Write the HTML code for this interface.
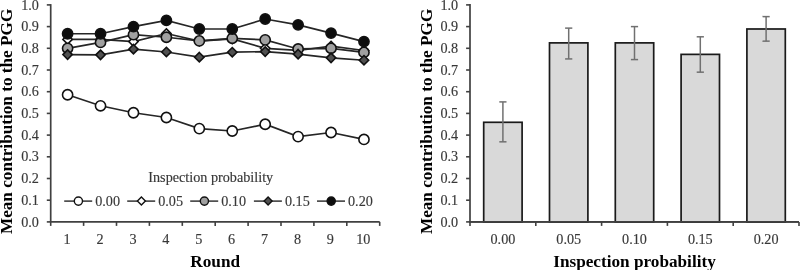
<!DOCTYPE html><html><head><meta charset="utf-8"><style>html,body{margin:0;padding:0;background:#fff;width:800px;height:270px;overflow:hidden}svg{display:block}</style></head><body><svg width="800" height="270" viewBox="0 0 800 270">
<rect width="800" height="270" fill="#fff"/>
<style>.t{font-family:"Liberation Serif",serif;font-size:14.2px;fill:#383838;stroke:#383838;stroke-width:0.15px}.b{font-family:"Liberation Serif",serif;font-size:17.2px;font-weight:bold;fill:#000}</style>
<line x1="46.80" y1="221.90" x2="50.70" y2="221.90" stroke="#404040" stroke-width="1.6"/>
<text x="38.90" y="226.50" text-anchor="end" class="t">0.0</text>
<line x1="46.80" y1="200.20" x2="50.70" y2="200.20" stroke="#404040" stroke-width="1.6"/>
<text x="38.90" y="204.80" text-anchor="end" class="t">0.1</text>
<line x1="46.80" y1="178.50" x2="50.70" y2="178.50" stroke="#404040" stroke-width="1.6"/>
<text x="38.90" y="183.10" text-anchor="end" class="t">0.2</text>
<line x1="46.80" y1="156.80" x2="50.70" y2="156.80" stroke="#404040" stroke-width="1.6"/>
<text x="38.90" y="161.40" text-anchor="end" class="t">0.3</text>
<line x1="46.80" y1="135.10" x2="50.70" y2="135.10" stroke="#404040" stroke-width="1.6"/>
<text x="38.90" y="139.70" text-anchor="end" class="t">0.4</text>
<line x1="46.80" y1="113.40" x2="50.70" y2="113.40" stroke="#404040" stroke-width="1.6"/>
<text x="38.90" y="118.00" text-anchor="end" class="t">0.5</text>
<line x1="46.80" y1="91.70" x2="50.70" y2="91.70" stroke="#404040" stroke-width="1.6"/>
<text x="38.90" y="96.30" text-anchor="end" class="t">0.6</text>
<line x1="46.80" y1="70.00" x2="50.70" y2="70.00" stroke="#404040" stroke-width="1.6"/>
<text x="38.90" y="74.60" text-anchor="end" class="t">0.7</text>
<line x1="46.80" y1="48.30" x2="50.70" y2="48.30" stroke="#404040" stroke-width="1.6"/>
<text x="38.90" y="52.90" text-anchor="end" class="t">0.8</text>
<line x1="46.80" y1="26.60" x2="50.70" y2="26.60" stroke="#404040" stroke-width="1.6"/>
<text x="38.90" y="31.20" text-anchor="end" class="t">0.9</text>
<line x1="46.80" y1="4.90" x2="50.70" y2="4.90" stroke="#404040" stroke-width="1.6"/>
<text x="38.90" y="9.50" text-anchor="end" class="t">1.0</text>
<line x1="50.70" y1="221.90" x2="50.70" y2="225.90" stroke="#404040" stroke-width="1.6"/>
<line x1="83.60" y1="221.90" x2="83.60" y2="225.90" stroke="#404040" stroke-width="1.6"/>
<line x1="116.50" y1="221.90" x2="116.50" y2="225.90" stroke="#404040" stroke-width="1.6"/>
<line x1="149.40" y1="221.90" x2="149.40" y2="225.90" stroke="#404040" stroke-width="1.6"/>
<line x1="182.30" y1="221.90" x2="182.30" y2="225.90" stroke="#404040" stroke-width="1.6"/>
<line x1="215.20" y1="221.90" x2="215.20" y2="225.90" stroke="#404040" stroke-width="1.6"/>
<line x1="248.10" y1="221.90" x2="248.10" y2="225.90" stroke="#404040" stroke-width="1.6"/>
<line x1="281.00" y1="221.90" x2="281.00" y2="225.90" stroke="#404040" stroke-width="1.6"/>
<line x1="313.90" y1="221.90" x2="313.90" y2="225.90" stroke="#404040" stroke-width="1.6"/>
<line x1="346.80" y1="221.90" x2="346.80" y2="225.90" stroke="#404040" stroke-width="1.6"/>
<line x1="379.70" y1="221.90" x2="379.70" y2="225.90" stroke="#404040" stroke-width="1.6"/>
<text x="67.15" y="243.6" text-anchor="middle" class="t">1</text>
<text x="100.05" y="243.6" text-anchor="middle" class="t">2</text>
<text x="132.95" y="243.6" text-anchor="middle" class="t">3</text>
<text x="165.85" y="243.6" text-anchor="middle" class="t">4</text>
<text x="198.75" y="243.6" text-anchor="middle" class="t">5</text>
<text x="231.65" y="243.6" text-anchor="middle" class="t">6</text>
<text x="264.55" y="243.6" text-anchor="middle" class="t">7</text>
<text x="297.45" y="243.6" text-anchor="middle" class="t">8</text>
<text x="330.35" y="243.6" text-anchor="middle" class="t">9</text>
<text x="363.25" y="243.6" text-anchor="middle" class="t">10</text>
<line x1="50.70" y1="4.10" x2="50.70" y2="221.90" stroke="#404040" stroke-width="1.7"/>
<line x1="49.90" y1="221.90" x2="379.70" y2="221.90" stroke="#404040" stroke-width="1.7"/>
<text x="215.20" y="266.5" text-anchor="middle" class="b">Round</text>
<text transform="translate(12.30,121.4) rotate(-90)" text-anchor="middle" class="b">Mean contribution to the PGG</text>
<polyline points="67.60,94.74 100.53,105.80 133.46,112.75 166.39,117.52 199.32,128.59 232.25,130.98 265.18,124.25 298.11,136.62 331.04,132.50 363.97,139.44" fill="none" stroke="#262626" stroke-width="1.7"/>
<circle cx="67.60" cy="94.74" r="5.1" fill="#ffffff" stroke="#111" stroke-width="1.6"/>
<circle cx="100.53" cy="105.80" r="5.1" fill="#ffffff" stroke="#111" stroke-width="1.6"/>
<circle cx="133.46" cy="112.75" r="5.1" fill="#ffffff" stroke="#111" stroke-width="1.6"/>
<circle cx="166.39" cy="117.52" r="5.1" fill="#ffffff" stroke="#111" stroke-width="1.6"/>
<circle cx="199.32" cy="128.59" r="5.1" fill="#ffffff" stroke="#111" stroke-width="1.6"/>
<circle cx="232.25" cy="130.98" r="5.1" fill="#ffffff" stroke="#111" stroke-width="1.6"/>
<circle cx="265.18" cy="124.25" r="5.1" fill="#ffffff" stroke="#111" stroke-width="1.6"/>
<circle cx="298.11" cy="136.62" r="5.1" fill="#ffffff" stroke="#111" stroke-width="1.6"/>
<circle cx="331.04" cy="132.50" r="5.1" fill="#ffffff" stroke="#111" stroke-width="1.6"/>
<circle cx="363.97" cy="139.44" r="5.1" fill="#ffffff" stroke="#111" stroke-width="1.6"/>
<polyline points="67.60,39.40 100.53,39.40 133.46,41.57 166.39,33.54 199.32,41.14 232.25,38.97 265.18,48.30 298.11,50.47 331.04,46.13 363.97,50.47" fill="none" stroke="#262626" stroke-width="1.7"/>
<path d="M67.60 34.70L72.30 39.40L67.60 44.10L62.90 39.40Z" fill="#ffffff" stroke="#111" stroke-width="1.6"/>
<path d="M100.53 34.70L105.23 39.40L100.53 44.10L95.83 39.40Z" fill="#ffffff" stroke="#111" stroke-width="1.6"/>
<path d="M133.46 36.87L138.16 41.57L133.46 46.27L128.76 41.57Z" fill="#ffffff" stroke="#111" stroke-width="1.6"/>
<path d="M166.39 28.84L171.09 33.54L166.39 38.24L161.69 33.54Z" fill="#ffffff" stroke="#111" stroke-width="1.6"/>
<path d="M199.32 36.44L204.02 41.14L199.32 45.84L194.62 41.14Z" fill="#ffffff" stroke="#111" stroke-width="1.6"/>
<path d="M232.25 34.27L236.95 38.97L232.25 43.67L227.55 38.97Z" fill="#ffffff" stroke="#111" stroke-width="1.6"/>
<path d="M265.18 43.60L269.88 48.30L265.18 53.00L260.48 48.30Z" fill="#ffffff" stroke="#111" stroke-width="1.6"/>
<path d="M298.11 45.77L302.81 50.47L298.11 55.17L293.41 50.47Z" fill="#ffffff" stroke="#111" stroke-width="1.6"/>
<path d="M331.04 41.43L335.74 46.13L331.04 50.83L326.34 46.13Z" fill="#ffffff" stroke="#111" stroke-width="1.6"/>
<path d="M363.97 45.77L368.67 50.47L363.97 55.17L359.27 50.47Z" fill="#ffffff" stroke="#111" stroke-width="1.6"/>
<polyline points="67.60,48.30 100.53,42.44 133.46,34.63 166.39,37.23 199.32,40.92 232.25,38.32 265.18,39.84 298.11,48.95 331.04,48.30 363.97,52.42" fill="none" stroke="#262626" stroke-width="1.7"/>
<circle cx="67.60" cy="48.30" r="5.1" fill="#a0a0a0" stroke="#111" stroke-width="1.6"/>
<circle cx="100.53" cy="42.44" r="5.1" fill="#a0a0a0" stroke="#111" stroke-width="1.6"/>
<circle cx="133.46" cy="34.63" r="5.1" fill="#a0a0a0" stroke="#111" stroke-width="1.6"/>
<circle cx="166.39" cy="37.23" r="5.1" fill="#a0a0a0" stroke="#111" stroke-width="1.6"/>
<circle cx="199.32" cy="40.92" r="5.1" fill="#a0a0a0" stroke="#111" stroke-width="1.6"/>
<circle cx="232.25" cy="38.32" r="5.1" fill="#a0a0a0" stroke="#111" stroke-width="1.6"/>
<circle cx="265.18" cy="39.84" r="5.1" fill="#a0a0a0" stroke="#111" stroke-width="1.6"/>
<circle cx="298.11" cy="48.95" r="5.1" fill="#a0a0a0" stroke="#111" stroke-width="1.6"/>
<circle cx="331.04" cy="48.30" r="5.1" fill="#a0a0a0" stroke="#111" stroke-width="1.6"/>
<circle cx="363.97" cy="52.42" r="5.1" fill="#a0a0a0" stroke="#111" stroke-width="1.6"/>
<polyline points="67.60,54.59 100.53,54.81 133.46,49.17 166.39,51.99 199.32,57.20 232.25,52.21 265.18,51.56 298.11,54.16 331.04,57.85 363.97,60.24" fill="none" stroke="#262626" stroke-width="1.7"/>
<path d="M67.60 49.89L72.30 54.59L67.60 59.29L62.90 54.59Z" fill="#505050" stroke="#111" stroke-width="1.6"/>
<path d="M100.53 50.11L105.23 54.81L100.53 59.51L95.83 54.81Z" fill="#505050" stroke="#111" stroke-width="1.6"/>
<path d="M133.46 44.47L138.16 49.17L133.46 53.87L128.76 49.17Z" fill="#505050" stroke="#111" stroke-width="1.6"/>
<path d="M166.39 47.29L171.09 51.99L166.39 56.69L161.69 51.99Z" fill="#505050" stroke="#111" stroke-width="1.6"/>
<path d="M199.32 52.50L204.02 57.20L199.32 61.90L194.62 57.20Z" fill="#505050" stroke="#111" stroke-width="1.6"/>
<path d="M232.25 47.51L236.95 52.21L232.25 56.91L227.55 52.21Z" fill="#505050" stroke="#111" stroke-width="1.6"/>
<path d="M265.18 46.86L269.88 51.56L265.18 56.26L260.48 51.56Z" fill="#505050" stroke="#111" stroke-width="1.6"/>
<path d="M298.11 49.46L302.81 54.16L298.11 58.86L293.41 54.16Z" fill="#505050" stroke="#111" stroke-width="1.6"/>
<path d="M331.04 53.15L335.74 57.85L331.04 62.55L326.34 57.85Z" fill="#505050" stroke="#111" stroke-width="1.6"/>
<path d="M363.97 55.54L368.67 60.24L363.97 64.94L359.27 60.24Z" fill="#505050" stroke="#111" stroke-width="1.6"/>
<polyline points="67.60,33.76 100.53,33.76 133.46,26.60 166.39,20.31 199.32,28.99 232.25,28.99 265.18,19.00 298.11,24.86 331.04,33.11 363.97,41.57" fill="none" stroke="#262626" stroke-width="1.7"/>
<circle cx="67.60" cy="33.76" r="5.1" fill="#0d0d0d" stroke="#111" stroke-width="1.6"/>
<circle cx="100.53" cy="33.76" r="5.1" fill="#0d0d0d" stroke="#111" stroke-width="1.6"/>
<circle cx="133.46" cy="26.60" r="5.1" fill="#0d0d0d" stroke="#111" stroke-width="1.6"/>
<circle cx="166.39" cy="20.31" r="5.1" fill="#0d0d0d" stroke="#111" stroke-width="1.6"/>
<circle cx="199.32" cy="28.99" r="5.1" fill="#0d0d0d" stroke="#111" stroke-width="1.6"/>
<circle cx="232.25" cy="28.99" r="5.1" fill="#0d0d0d" stroke="#111" stroke-width="1.6"/>
<circle cx="265.18" cy="19.00" r="5.1" fill="#0d0d0d" stroke="#111" stroke-width="1.6"/>
<circle cx="298.11" cy="24.86" r="5.1" fill="#0d0d0d" stroke="#111" stroke-width="1.6"/>
<circle cx="331.04" cy="33.11" r="5.1" fill="#0d0d0d" stroke="#111" stroke-width="1.6"/>
<circle cx="363.97" cy="41.57" r="5.1" fill="#0d0d0d" stroke="#111" stroke-width="1.6"/>
<text x="148.3" y="181.8" class="t">Inspection probability</text>
<line x1="64.20" y1="201.1" x2="92.20" y2="201.1" stroke="#262626" stroke-width="1.4"/>
<circle cx="78.40" cy="201.10" r="4.1" fill="#ffffff" stroke="#111" stroke-width="1.4"/>
<text x="95.20" y="206.00" class="t">0.00</text>
<line x1="127.20" y1="201.1" x2="155.20" y2="201.1" stroke="#262626" stroke-width="1.4"/>
<path d="M141.40 197.10L145.40 201.10L141.40 205.10L137.40 201.10Z" fill="#ffffff" stroke="#111" stroke-width="1.4"/>
<text x="158.20" y="206.00" class="t">0.05</text>
<line x1="190.20" y1="201.1" x2="218.20" y2="201.1" stroke="#262626" stroke-width="1.4"/>
<circle cx="204.40" cy="201.10" r="4.1" fill="#a0a0a0" stroke="#111" stroke-width="1.4"/>
<text x="221.20" y="206.00" class="t">0.10</text>
<line x1="253.90" y1="201.1" x2="281.90" y2="201.1" stroke="#262626" stroke-width="1.4"/>
<path d="M268.10 197.10L272.10 201.10L268.10 205.10L264.10 201.10Z" fill="#505050" stroke="#111" stroke-width="1.4"/>
<text x="284.90" y="206.00" class="t">0.15</text>
<line x1="317.00" y1="201.1" x2="345.00" y2="201.1" stroke="#262626" stroke-width="1.4"/>
<circle cx="331.20" cy="201.10" r="4.1" fill="#0d0d0d" stroke="#111" stroke-width="1.4"/>
<text x="348.00" y="206.00" class="t">0.20</text>
<line x1="466.10" y1="221.90" x2="470.00" y2="221.90" stroke="#404040" stroke-width="1.6"/>
<text x="458.20" y="226.50" text-anchor="end" class="t">0.0</text>
<line x1="466.10" y1="200.20" x2="470.00" y2="200.20" stroke="#404040" stroke-width="1.6"/>
<text x="458.20" y="204.80" text-anchor="end" class="t">0.1</text>
<line x1="466.10" y1="178.50" x2="470.00" y2="178.50" stroke="#404040" stroke-width="1.6"/>
<text x="458.20" y="183.10" text-anchor="end" class="t">0.2</text>
<line x1="466.10" y1="156.80" x2="470.00" y2="156.80" stroke="#404040" stroke-width="1.6"/>
<text x="458.20" y="161.40" text-anchor="end" class="t">0.3</text>
<line x1="466.10" y1="135.10" x2="470.00" y2="135.10" stroke="#404040" stroke-width="1.6"/>
<text x="458.20" y="139.70" text-anchor="end" class="t">0.4</text>
<line x1="466.10" y1="113.40" x2="470.00" y2="113.40" stroke="#404040" stroke-width="1.6"/>
<text x="458.20" y="118.00" text-anchor="end" class="t">0.5</text>
<line x1="466.10" y1="91.70" x2="470.00" y2="91.70" stroke="#404040" stroke-width="1.6"/>
<text x="458.20" y="96.30" text-anchor="end" class="t">0.6</text>
<line x1="466.10" y1="70.00" x2="470.00" y2="70.00" stroke="#404040" stroke-width="1.6"/>
<text x="458.20" y="74.60" text-anchor="end" class="t">0.7</text>
<line x1="466.10" y1="48.30" x2="470.00" y2="48.30" stroke="#404040" stroke-width="1.6"/>
<text x="458.20" y="52.90" text-anchor="end" class="t">0.8</text>
<line x1="466.10" y1="26.60" x2="470.00" y2="26.60" stroke="#404040" stroke-width="1.6"/>
<text x="458.20" y="31.20" text-anchor="end" class="t">0.9</text>
<line x1="466.10" y1="4.90" x2="470.00" y2="4.90" stroke="#404040" stroke-width="1.6"/>
<text x="458.20" y="9.50" text-anchor="end" class="t">1.0</text>
<line x1="470.00" y1="221.90" x2="470.00" y2="225.90" stroke="#404040" stroke-width="1.6"/>
<line x1="535.80" y1="221.90" x2="535.80" y2="225.90" stroke="#404040" stroke-width="1.6"/>
<line x1="601.60" y1="221.90" x2="601.60" y2="225.90" stroke="#404040" stroke-width="1.6"/>
<line x1="667.40" y1="221.90" x2="667.40" y2="225.90" stroke="#404040" stroke-width="1.6"/>
<line x1="733.20" y1="221.90" x2="733.20" y2="225.90" stroke="#404040" stroke-width="1.6"/>
<line x1="799.00" y1="221.90" x2="799.00" y2="225.90" stroke="#404040" stroke-width="1.6"/>
<text x="502.90" y="243.6" text-anchor="middle" class="t">0.00</text>
<text x="568.70" y="243.6" text-anchor="middle" class="t">0.05</text>
<text x="634.50" y="243.6" text-anchor="middle" class="t">0.10</text>
<text x="700.30" y="243.6" text-anchor="middle" class="t">0.15</text>
<text x="766.10" y="243.6" text-anchor="middle" class="t">0.20</text>
<line x1="470.00" y1="4.10" x2="470.00" y2="221.90" stroke="#404040" stroke-width="1.7"/>
<line x1="469.20" y1="221.90" x2="799.00" y2="221.90" stroke="#404040" stroke-width="1.7"/>
<text x="634.50" y="266.5" text-anchor="middle" class="b">Inspection probability</text>
<text transform="translate(432.10,121.4) rotate(-90)" text-anchor="middle" class="b">Mean contribution to the PGG</text>
<rect x="483.70" y="122.30" width="38.4" height="99.60" fill="#d9d9d9" stroke="#1a1a1a" stroke-width="1.7"/>
<line x1="502.90" y1="101.90" x2="502.90" y2="141.83" stroke="#707070" stroke-width="1.5"/>
<line x1="499.30" y1="101.90" x2="506.50" y2="101.90" stroke="#707070" stroke-width="1.5"/>
<line x1="499.30" y1="141.83" x2="506.50" y2="141.83" stroke="#707070" stroke-width="1.5"/>
<rect x="549.50" y="42.88" width="38.4" height="179.02" fill="#d9d9d9" stroke="#1a1a1a" stroke-width="1.7"/>
<line x1="568.70" y1="28.12" x2="568.70" y2="58.93" stroke="#707070" stroke-width="1.5"/>
<line x1="565.10" y1="28.12" x2="572.30" y2="28.12" stroke="#707070" stroke-width="1.5"/>
<line x1="565.10" y1="58.93" x2="572.30" y2="58.93" stroke="#707070" stroke-width="1.5"/>
<rect x="615.30" y="42.88" width="38.4" height="179.02" fill="#d9d9d9" stroke="#1a1a1a" stroke-width="1.7"/>
<line x1="634.50" y1="26.60" x2="634.50" y2="59.58" stroke="#707070" stroke-width="1.5"/>
<line x1="630.90" y1="26.60" x2="638.10" y2="26.60" stroke="#707070" stroke-width="1.5"/>
<line x1="630.90" y1="59.58" x2="638.10" y2="59.58" stroke="#707070" stroke-width="1.5"/>
<rect x="681.10" y="54.38" width="38.4" height="167.52" fill="#d9d9d9" stroke="#1a1a1a" stroke-width="1.7"/>
<line x1="700.30" y1="36.80" x2="700.30" y2="72.17" stroke="#707070" stroke-width="1.5"/>
<line x1="696.70" y1="36.80" x2="703.90" y2="36.80" stroke="#707070" stroke-width="1.5"/>
<line x1="696.70" y1="72.17" x2="703.90" y2="72.17" stroke="#707070" stroke-width="1.5"/>
<rect x="746.90" y="28.99" width="38.4" height="192.91" fill="#d9d9d9" stroke="#1a1a1a" stroke-width="1.7"/>
<line x1="766.10" y1="16.62" x2="766.10" y2="41.14" stroke="#707070" stroke-width="1.5"/>
<line x1="762.50" y1="16.62" x2="769.70" y2="16.62" stroke="#707070" stroke-width="1.5"/>
<line x1="762.50" y1="41.14" x2="769.70" y2="41.14" stroke="#707070" stroke-width="1.5"/>
<line x1="469.20" y1="221.90" x2="799.00" y2="221.90" stroke="#404040" stroke-width="1.7"/>
</svg></body></html>
